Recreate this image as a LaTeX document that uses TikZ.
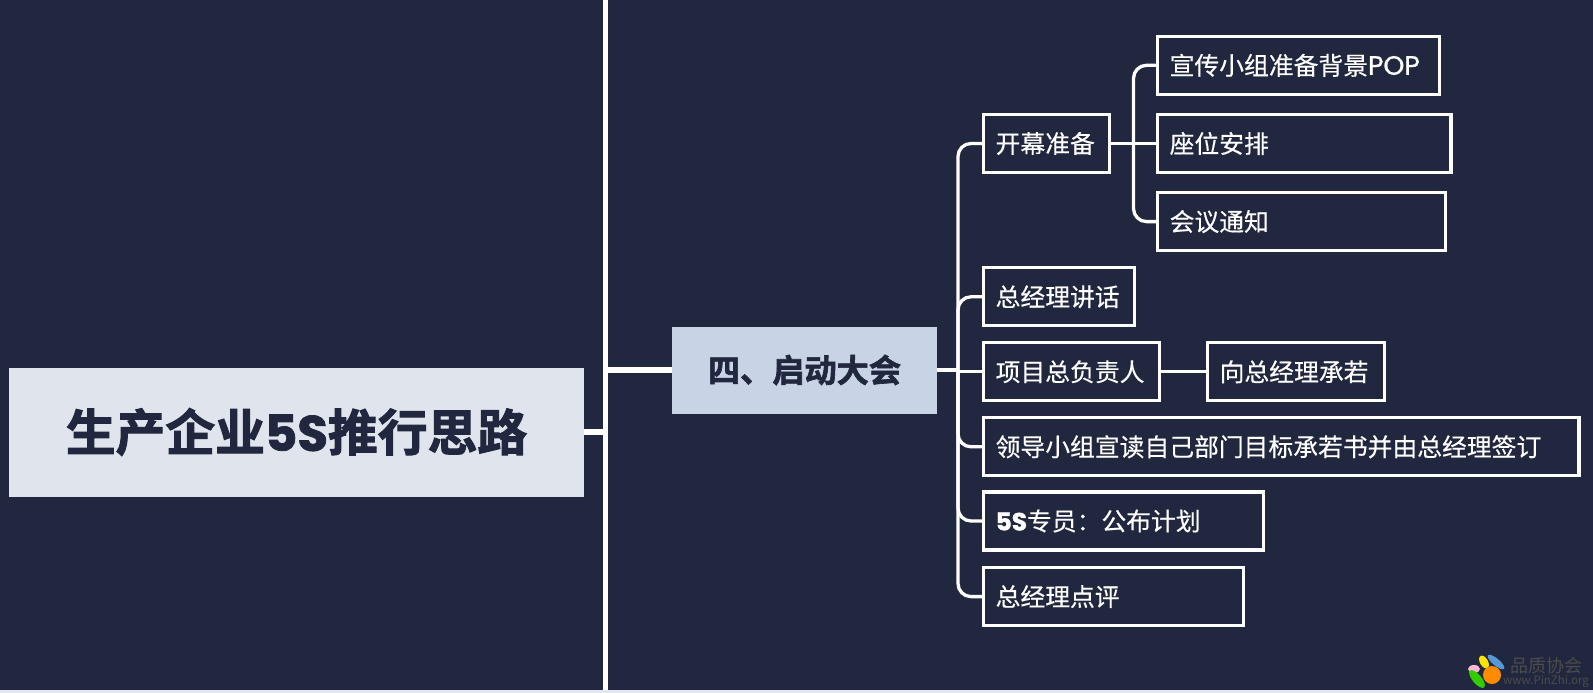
\documentclass[tikz,border=0pt]{standalone}
\usepackage{fontspec}
\usepackage{tikz}
\usetikzlibrary{calc}
\setmainfont{Noto Sans CJK SC}
\newfontfamily\cjk[FakeBold=0.35]{Noto Sans CJK SC}
\newfontfamily\cjkheavy[FakeBold=2]{Noto Sans CJK SC Bold}
\newfontfamily\lat[FakeBold=1]{Poppins}
\newfontfamily\latheavy[FakeBold=1.5]{Poppins Bold}
\newfontfamily\logofont{Noto Sans CJK SC}
\definecolor{BoardNavy}{HTML}{21273E}
\definecolor{RootGrey}{HTML}{E0E4EC}
\definecolor{MainBlue}{HTML}{C8D3E5}
\definecolor{StripGrey}{HTML}{E4E7EE}
\tikzset{
  x=1pt,y=-1pt,
  leaf/.style={draw=white,line width=3.3pt,anchor=west,minimum height=58pt,inner xsep=12pt,inner ysep=0pt,
    align=left,text=white,font=\cjk\fontsize{24.8}{30}\selectfont},
  link/.style={draw=white,line width=3.3pt,rounded corners=13pt},
  bigline/.style={draw=white,line width=5.6pt}
}

\begin{document}
\begin{tikzpicture}
   \useasboundingbox (0,0) rectangle (1593,693);
   \fill[BoardNavy] (0,0) rectangle (1593,693);
   \fill[StripGrey] (0,690) rectangle (1593,693);

   \node[fill=RootGrey,text=BoardNavy,minimum width=575.5pt,minimum height=129pt,inner sep=0pt,
     font=\cjkheavy\fontsize{49.8}{56}\selectfont] (root) at (296.5,432) {生产企业{\latheavy 5S}推行思路};
   \node[fill=MainBlue,text=BoardNavy,minimum width=265pt,minimum height=87pt,inner sep=0pt,
     font=\cjkheavy\fontsize{32.2}{38}\selectfont] (main) at (804.5,370) {四、启动大会};

   \foreach \px/\py/\wid/\name/\txt in {
     1156/65.3/285/xuanchuan/宣传小组准备背景{\lat\fontsize{26.6}{30}\selectfont POP},
     1156/143.5/296.5/zuowei/座位安排,
     1156/221.6/291/huiyi/会议通知,
     982/143.5/129/kaimu/开幕准备,
     982/296.8/154/jianghua/总经理讲话,
     982/371.8/179/fuze/项目总负责人,
     1206/371.8/180/chengruo/向总经理承若,
     982/446.8/598.5/lingdao/领导小组宣读自己部门目标承若书并由总经理签订,
     982/521/283/zhuanyuan/{\latheavy 5S}专员：公布计划,
     982/596.6/263/dianping/总经理点评} {
    \node[leaf,text width=\wid pt-27.3pt] (\name) at (\px,\py) {\txt};
   }

   \coordinate (spinetop) at (605.3,0);
   \coordinate (spinebot) at (605.3,690);
   \coordinate (trunk) at (958,370);
   \coordinate (subtrunk) at (1133.5,143.5);

   \draw[bigline] (spinetop) -- (spinebot);
   \draw[bigline] (root.east) -- (root.east -| spinetop);
   \draw[bigline] (main.west) -- (main.west -| spinetop);

   \draw[link] (main.east) -- (main.east -| trunk);
   \draw[link] (fuze.west) -- (fuze.west -| trunk);
   \foreach \name in {kaimu,jianghua} {
    \draw[link] (\name.west) -| (trunk);
   }
   \foreach \name in {lingdao,zhuanyuan,dianping} {
    \draw[link] (trunk) |- (\name.west);
   }
   \draw[link] (kaimu.east) -- (zuowei.west);
   \draw[link] (xuanchuan.west) -| (subtrunk);
   \draw[link] (subtrunk) |- (huiyi.west);
   \draw[link] (fuze.east) -- (chengruo.west);

   % logo bottom right
   \fill[pink!80!magenta!70] (1474,669) ellipse [x radius=6,y radius=4];
   \fill[yellow!85!orange,rotate around={-60:(1484,662)}] (1484,662) ellipse [x radius=7,y radius=4];
   \fill[cyan!60!blue!70,rotate around={-40:(1496,662)}] (1496,662) ellipse [x radius=10.5,y radius=3.5];
   \fill[green!60!olive,rotate around={-50:(1477,679)}] (1477,679) ellipse [x radius=11,y radius=4.5];
   \fill[orange!90!yellow] (1492,675) circle (9);
   \node[text=gray!60!black,font=\logofont\fontsize{18}{20}\selectfont,inner sep=0pt] (logotitle) at (1546,666) {品质协会};
   \node[text=gray!60!black,font=\logofont\fontsize{11.5}{13}\selectfont,inner sep=0pt] (logourl) at (1546,681.5) {www.PinZhi.org};
\end{tikzpicture}
\end{document}
